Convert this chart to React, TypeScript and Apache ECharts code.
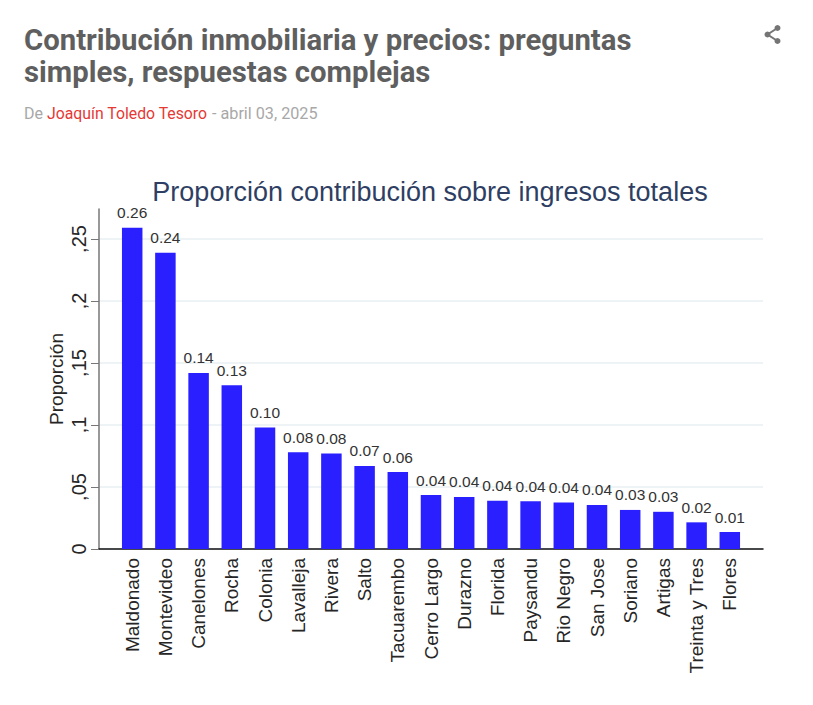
import React, { useEffect, useRef } from "react";
import * as echarts from "echarts";

const postTitleLines = ["Contribución inmobiliaria y precios: preguntas", "simples, respuestas complejas"];
const bylinePrefix = "De";
const bylineAuthor = "Joaquín Toledo Tesoro";
const bylineDate = "- abril 03, 2025";
const chartTitle = "Proporción contribución sobre ingresos totales";
const yAxisName = "Proporción";
const categories = ["Maldonado", "Montevideo", "Canelones", "Rocha", "Colonia", "Lavalleja", "Rivera", "Salto", "Tacuarembo", "Cerro Largo", "Durazno", "Florida", "Paysandu", "Rio Negro", "San Jose", "Soriano", "Artigas", "Treinta y Tres", "Flores"];
const values = [0.259, 0.239, 0.142, 0.132, 0.098, 0.078, 0.077, 0.067, 0.062, 0.0435, 0.042, 0.039, 0.0385, 0.0375, 0.0355, 0.0315, 0.03, 0.0215, 0.0137];
const yTicks = [0, 0.05, 0.1, 0.15, 0.2, 0.25];
const yTickLabels = ["0", ",05", ",1", ",15", ",2", ",25"];

const chartFont = "Liberation Sans";
const headFont = "Roboto";

export default function App() {
  const ref = useRef<HTMLDivElement>(null);
  useEffect(() => {
    const chart = echarts.init(ref.current!, undefined, { renderer: "svg" });
    chart.setOption({
      animation: false,
      backgroundColor: "#ffffff",
      textStyle: { fontFamily: chartFont },
      title: {
        text: chartTitle,
        left: 425,
        top: 173,
        textAlign: "center",
        textStyle: { fontFamily: chartFont, fontSize: 27, fontWeight: "normal", color: "#2f3f63" },
      },
      grid: { left: 99, right: 50, top: 209, bottom: 156 },
      xAxis: {
        type: "category",
        boundaryGap: false,
        data: ["", ...categories, ""],
        axisLine: { lineStyle: { color: "#111111", width: 1.5 } },
        axisTick: { show: false },
        axisLabel: {
          interval: 0,
          rotate: 90,
          margin: 9,
          fontFamily: chartFont,
          fontSize: 19,
          color: "#262626",
        },
      },
      yAxis: {
        type: "value",
        min: 0,
        max: 0.2742,
        name: yAxisName,
        nameLocation: "middle",
        nameGap: 33,
        nameMoveOverlap: false,
        nameRotate: 90,
        nameTextStyle: { fontFamily: chartFont, fontSize: 19, color: "#262626" },
        axisLine: { show: true, lineStyle: { color: "#777777", width: 1.5 } },
        axisTick: { show: true, length: 8, lineStyle: { color: "#777777", width: 1 }, customValues: yTicks },
        splitLine: { show: true, lineStyle: { color: "#eef3f5", width: 2 } },
        axisLabel: {
          customValues: yTicks,
          rotate: 90,
          margin: 10,
          fontFamily: chartFont,
          fontSize: 20,
          color: "#262626",
          formatter: (v: number) => yTickLabels[yTicks.findIndex((t) => Math.abs(t - v) < 1e-9)] ?? "",
        },
      },
      series: [
        {
          type: "bar",
          data: [null, ...values, null],
          barWidth: 20.5,
          itemStyle: { color: "#2a1fff" },
          label: {
            show: true,
            position: "top",
            distance: 7,
            fontFamily: chartFont,
            fontSize: 15.5,
            color: "#333333",
            formatter: (p: any) => Number(p.value).toFixed(2),
          },
        },
      ],
      graphic: [
        {
          type: "text",
          x: 24,
          y: 25,
          style: { text: postTitleLines[0], fontFamily: headFont, fontSize: 29.3, fontWeight: 700, fill: "#5f5f5f" },
        },
        {
          type: "text",
          x: 24,
          y: 57,
          style: { text: postTitleLines[1], fontFamily: headFont, fontSize: 29.3, fontWeight: 700, fill: "#5f5f5f" },
        },
        {
          type: "text",
          x: 24,
          y: 105,
          style: { text: bylinePrefix, fontFamily: headFont, fontSize: 16, fill: "#a8a8a8" },
        },
        {
          type: "text",
          x: 47,
          y: 105,
          style: { text: bylineAuthor, fontFamily: headFont, fontSize: 15.8, fill: "#e53935" },
        },
        {
          type: "text",
          x: 212,
          y: 105,
          style: { text: bylineDate, fontFamily: headFont, fontSize: 16.2, fill: "#a8a8a8" },
        },
        {
          type: "polyline",
          shape: { points: [[777.5, 28], [767.5, 34.5], [777.5, 41]] },
          style: { stroke: "#757575", lineWidth: 2, fill: "none" },
        },
        { type: "circle", shape: { cx: 777.5, cy: 28, r: 3 }, style: { fill: "#757575" } },
        { type: "circle", shape: { cx: 767.5, cy: 34.5, r: 3 }, style: { fill: "#757575" } },
        { type: "circle", shape: { cx: 777.5, cy: 41, r: 3 }, style: { fill: "#757575" } },
      ],
    });
    return () => chart.dispose();
  }, []);
  return <div ref={ref} style={{ position: "absolute", left: 0, top: 0, width: 813, height: 705 }} />;
}
